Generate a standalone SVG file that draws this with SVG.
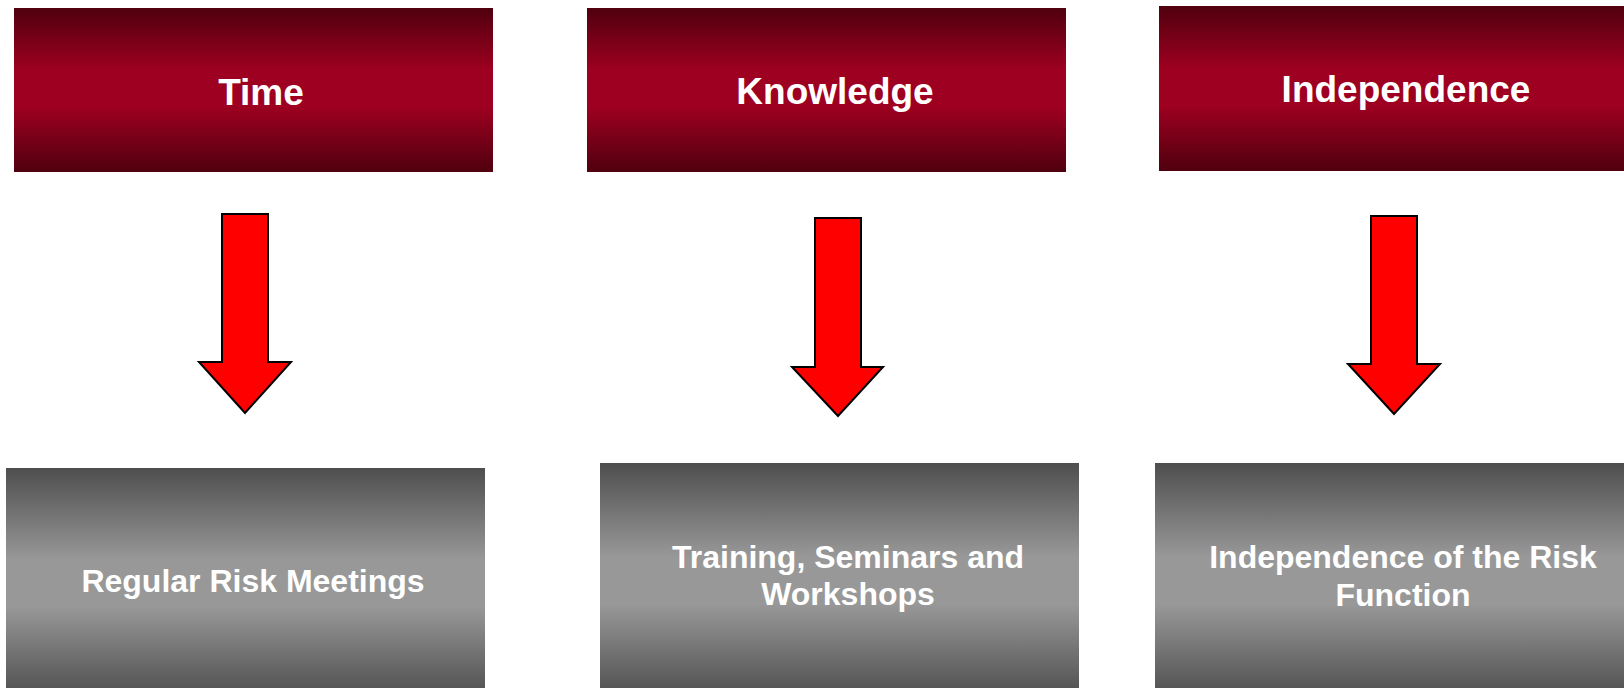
<svg xmlns="http://www.w3.org/2000/svg" width="1624" height="688" viewBox="0 0 1624 688">
  <defs>
    <linearGradient id="redBand" x1="0" y1="0" x2="0" y2="1">
      <stop offset="0" stop-color="#50000e"/>
      <stop offset="0.38" stop-color="#9e0021"/>
      <stop offset="0.6" stop-color="#9e0021"/>
      <stop offset="1" stop-color="#50000e"/>
    </linearGradient>
    <linearGradient id="greyBand" x1="0" y1="0" x2="0" y2="1">
      <stop offset="0" stop-color="#4e4e4e"/>
      <stop offset="0.4" stop-color="#989898"/>
      <stop offset="0.6" stop-color="#989898"/>
      <stop offset="1" stop-color="#4e4e4e"/>
    </linearGradient>
    <style>
      .head { fill: url(#redBand); }
      .body { fill: url(#greyBand); }
      .label { font-family: "Liberation Sans", Arial, sans-serif; font-weight: bold; fill: #ffffff; text-anchor: middle; }
      .big { font-size: 37px; }
      .small { font-size: 32px; }
      .arrow { fill: #ff0000; stroke: #000000; stroke-width: 2; stroke-linejoin: miter; }
    </style>
  </defs>
  <rect width="1624" height="688" fill="#ffffff"/>

  <!-- top headings -->
  <g id="time">
    <rect class="head" x="14" y="8" width="479" height="164"/>
    <text class="label big" x="261" y="105">Time</text>
  </g>
  <g id="knowledge">
    <rect class="head" x="587" y="8" width="479" height="164"/>
    <text class="label big" x="835" y="104">Knowledge</text>
  </g>
  <g id="independence">
    <rect class="head" x="1159" y="6" width="479" height="165"/>
    <text class="label big" x="1406" y="102">Independence</text>
  </g>

  <!-- bottom outcomes -->
  <g id="meetings">
    <rect class="body" x="6" y="468" width="479" height="230"/>
    <text class="label small" x="253" y="592">Regular Risk Meetings</text>
  </g>
  <g id="training">
    <rect class="body" x="600" y="463" width="479" height="235"/>
    <text class="label small" x="848" y="568">Training, Seminars and</text>
    <text class="label small" x="848" y="605">Workshops</text>
  </g>
  <g id="riskFunction">
    <rect class="body" x="1155" y="463" width="479" height="235"/>
    <text class="label small" x="1403" y="568">Independence of the Risk</text>
    <text class="label small" x="1403" y="606">Function</text>
  </g>

  <!-- block arrows -->
  <g id="connectors">
    <polygon class="arrow" points="222,214 268,214 268,362 291,362 245,413 199,362 222,362"/>
    <polygon class="arrow" points="815,218 861,218 861,367 883,367 838,416 792,367 815,367"/>
    <polygon class="arrow" points="1371,216 1417,216 1417,364 1440,364 1394,414 1348,364 1371,364"/>
  </g>
</svg>
